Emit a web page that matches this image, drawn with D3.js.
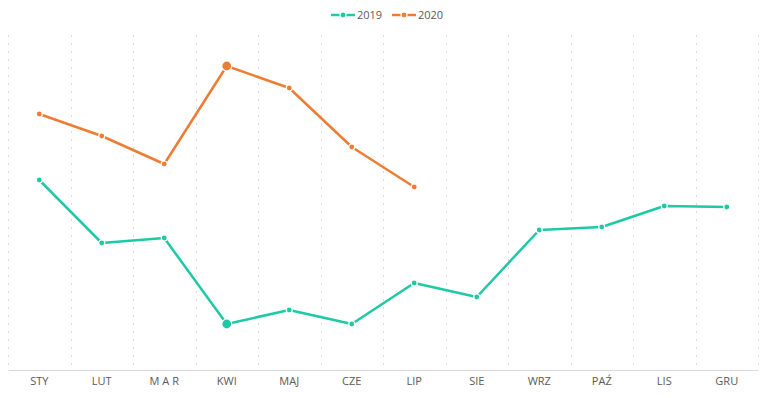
<!DOCTYPE html>
<html>
<head>
<meta charset="utf-8">
<script src="https://cdn.jsdelivr.net/npm/d3@7"></script>
<style>
  body { margin: 0; background: #fff; }
  text { font-family: "Open Sans", sans-serif; }
</style>
</head>
<body>
<svg id="chart"></svg>
<script>
var months = ["STY", "LUT", "M A R", "KWI", "MAJ", "CZE", "LIP", "SIE", "WRZ", "PAŹ", "LIS", "GRU"];
var values2019 = [1900, 1270, 1320, 460, 600, 460, 870, 730, 1400, 1430, 1640, 1630];
var values2020 = [2560, 2340, 2060, 3040, 2820, 2230, 1830];
var seriesNames = ["2019", "2020"];
var colors = ["#1ec9a5", "#ee7d33"];
var highlight = "KWI";

var width = 768, height = 398;
var margin = {top: 35, right: 10, bottom: 28, left: 8};
var w = width - margin.left - margin.right,
    h = height - margin.top - margin.bottom;

var svg = d3.select("#chart")
  .attr("width", width)
  .attr("height", height);

var g = svg.append("g")
  .attr("transform", "translate(" + margin.left + "," + margin.top + ")");

var x = d3.scaleBand()
  .domain(months)
  .range([0, w]);

var y = d3.scaleLinear()
  .domain([0, 3350])
  .range([h, 0]);

// vertical dashed grid at category boundaries
var bounds = months.map(function(m) { return x(m); }).concat([w]);
g.append("g")
  .selectAll("line")
  .data(bounds)
  .enter().append("line")
  .attr("x1", function(d) { return Math.round(d) + 0.5; })
  .attr("x2", function(d) { return Math.round(d) + 0.5; })
  .attr("y1", 0)
  .attr("y2", h)
  .attr("stroke", "#dadada")
  .attr("stroke-dasharray", "2,6");

// x axis
var xAxis = d3.axisBottom(x).tickSize(0).tickPadding(7);
var ax = g.append("g")
  .attr("transform", "translate(0," + h + ")")
  .call(xAxis);
ax.select(".domain").attr("stroke", "#d9d9d9").attr("stroke-width", 1);
ax.selectAll("text")
  .style("font-family", "'Open Sans', sans-serif")
  .style("font-size", "11px")
  .attr("fill", "#595959");

// lines
var series = [values2019, values2020];
var line = d3.line()
  .x(function(d, i) { return x(months[i]) + x.bandwidth() / 2; })
  .y(function(d) { return y(d); });

series.forEach(function(vals, s) {
  g.append("path")
    .datum(vals)
    .attr("fill", "none")
    .attr("stroke", colors[s])
    .attr("stroke-width", 2.5)
    .attr("stroke-linejoin", "round")
    .attr("d", line);

  g.append("g")
    .selectAll("circle")
    .data(vals)
    .enter().append("circle")
    .attr("cx", function(d, i) { return x(months[i]) + x.bandwidth() / 2; })
    .attr("cy", function(d) { return y(d); })
    .attr("r", function(d, i) { return months[i] == highlight ? 5 : 3; })
    .attr("fill", colors[s])
    .attr("stroke", "#fff")
    .attr("stroke-width", 1.2);
});

// legend
var legendX = [331, 392];
var legend = svg.append("g");
seriesNames.forEach(function(name, s) {
  var lx = legendX[s], ly = 15;
  legend.append("line")
    .attr("x1", lx).attr("x2", lx + 24)
    .attr("y1", ly).attr("y2", ly)
    .attr("stroke", colors[s])
    .attr("stroke-width", 2.5);
  legend.append("circle")
    .attr("cx", lx + 12).attr("cy", ly)
    .attr("r", 3)
    .attr("fill", colors[s])
    .attr("stroke", "#fff")
    .attr("stroke-width", 1.2);
  legend.append("text")
    .attr("x", lx + 26)
    .attr("y", ly)
    .attr("dy", "0.35em")
    .style("font-size", "11px")
    .attr("fill", "#595959")
    .text(name);
});
</script>
</body>
</html>
